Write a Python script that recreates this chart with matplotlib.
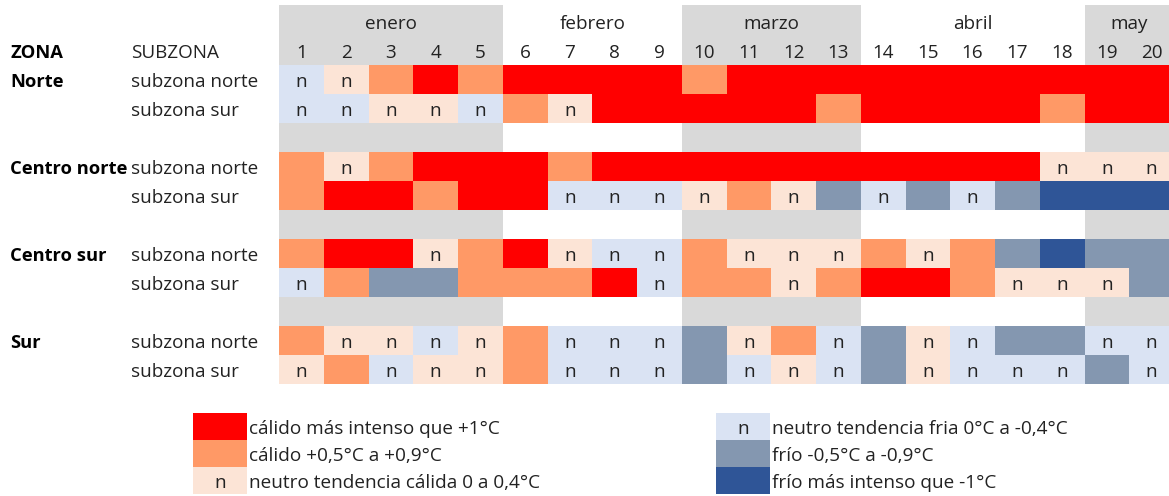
import matplotlib.pyplot as plt

# Datos del cuadro
meses = ["enero", "febrero", "marzo", "abril", "may"]
semanas_por_mes = [5, 4, 4, 5, 2]
mes_sombreado = [True, False, True, False, True]
semanas = list(range(1, 21))

zonas = ["Norte", "Centro norte", "Centro sur", "Sur"]
subzonas = ["subzona norte", "subzona sur"]

# 3 cálido intenso, 2 cálido, 1 neutro cálido, -1 neutro frío, -2 frío, -3 frío intenso
norte_norte = [-1, 1, 2, 3, 2, 3, 3, 3, 3, 2, 3, 3, 3, 3, 3, 3, 3, 3, 3, 3]
norte_sur = [-1, -1, 1, 1, -1, 2, 1, 3, 3, 3, 3, 3, 2, 3, 3, 3, 3, 2, 3, 3]
cnorte_norte = [2, 1, 2, 3, 3, 3, 2, 3, 3, 3, 3, 3, 3, 3, 3, 3, 3, 1, 1, 1]
cnorte_sur = [2, 3, 3, 2, 3, 3, -1, -1, -1, 1, 2, 1, -2, -1, -2, -1, -2, -3, -3, -3]
csur_norte = [2, 3, 3, 1, 2, 3, 1, -1, -1, 2, 1, 1, 1, 2, 1, 2, -2, -3, -2, -2]
csur_sur = [-1, 2, -2, -2, 2, 2, 2, 3, -1, 2, 2, 1, 2, 3, 3, 2, 1, 1, 1, -2]
sur_norte = [2, 1, 1, -1, 1, 2, -1, -1, -1, -2, 1, 2, -1, -2, 1, -1, -2, -2, -1, -1]
sur_sur = [1, 2, -1, 1, 1, 2, -1, -1, -1, -2, -1, 1, -1, -2, 1, -1, -1, -1, -2, -1]

datos = [[norte_norte, norte_sur], [cnorte_norte, cnorte_sur],
         [csur_norte, csur_sur], [sur_norte, sur_sur]]

categorias = [3, 2, 1, -1, -2, -3]
etiquetas = ["cálido más intenso que +1°C", "cálido +0,5°C a +0,9°C",
             "neutro tendencia cálida 0 a 0,4°C", "neutro tendencia fria 0°C a -0,4°C",
             "frío -0,5°C a -0,9°C", "frío más intenso que -1°C"]
colores = {3: "#FF0000", 2: "#FF9966", 1: "#FCE4D6",
           -1: "#DAE3F3", -2: "#8497B0", -3: "#2F5597"}
gris = "#D9D9D9"
tinta = "#222222"

plt.rcParams['font.family'] = ['Open Sans', 'DejaVu Sans']
fs = 13.6
dy = 0.1  # ajuste vertical del texto

fig = plt.figure(figsize=(11.69, 4.96), dpi=100)
ax = fig.add_axes([0, 0, 1, 1])
ax.set_xlim(-279 / 44.75, (1169 - 279) / 44.75)
ax.set_ylim((496 - 7) / 29, -7 / 29)
ax.axis("off")

# filas de separacion
filas_gap = [4, 7, 10]

# sombreado de meses
inicio = 0
for mes, n, somb in zip(meses, semanas_por_mes, mes_sombreado):
    if somb:
        for fila, alto in [(-0.07, 2.07)] + [(g, 1) for g in filas_gap]:
            ax.bar(inicio, alto, width=n, bottom=fila, align="edge", color=gris, linewidth=0)
    ax.text(inicio + n / 2, 0.5 + dy, mes, ha="center", va="center", fontsize=fs, color=tinta)
    inicio += n

for j, s in enumerate(semanas):
    ax.text(j + 0.5, 1.5 + dy, str(s), ha="center", va="center", fontsize=fs, color=tinta)

ax.text(-6.0, 1.5 + dy, "ZONA", ha="left", va="center", fontsize=13.2, fontweight="bold")
ax.text(-3.3, 1.5 + dy, "SUBZONA", ha="left", va="center", fontsize=fs, color=tinta)

for i, zona in enumerate(zonas):
    fila0 = 2 + 3 * i
    ax.text(-6.0, fila0 + 0.5 + dy, zona, ha="left", va="center", fontsize=13.2, fontweight="bold")
    for k, sub in enumerate(subzonas):
        fila = fila0 + k
        ax.text(-3.3, fila + 0.5 + dy, sub, ha="left", va="center", fontsize=fs, color=tinta)
        valores = datos[i][k]
        ax.bar(range(len(valores)), 1, width=1, bottom=fila, align="edge",
               color=[colores[v] for v in valores], linewidth=0)
        for j, v in enumerate(valores):
            if abs(v) == 1:
                ax.text(j + 0.5, fila + 0.5 + dy, "n", ha="center", va="center",
                        fontsize=fs, color=tinta)

# leyenda
alto_ley = 0.93
for idx, (cat, etq) in enumerate(zip(categorias, etiquetas)):
    col = idx // 3
    fila = 14.0 + (idx % 3) * alto_ley
    x0 = -1.92 if col == 0 else 9.77
    ax.bar(x0, alto_ley, width=1.2, bottom=fila, align="edge", color=colores[cat], linewidth=0)
    if abs(cat) == 1:
        ax.text(x0 + 0.6, fila + alto_ley / 2 + dy, "n", ha="center", va="center",
                fontsize=fs, color=tinta)
    ax.text(x0 + 1.24, fila + alto_ley / 2 + dy, etq, ha="left", va="center",
            fontsize=13.7, color=tinta)

fig.savefig("out.png", dpi=100)
